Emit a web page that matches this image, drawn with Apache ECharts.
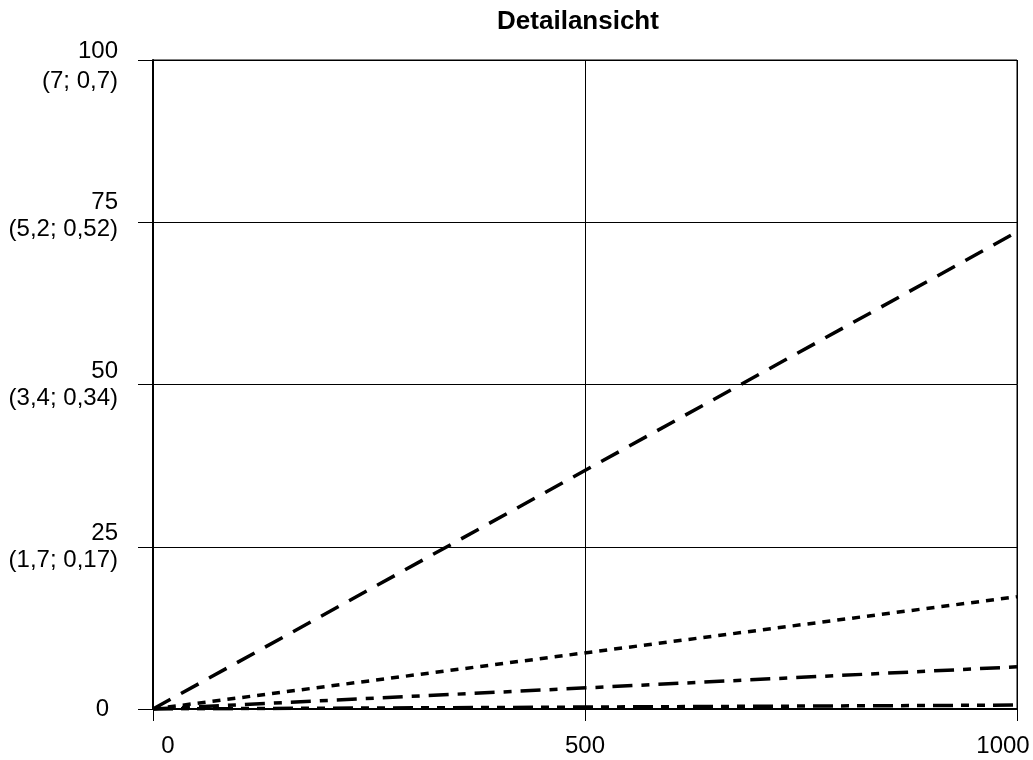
<!DOCTYPE html>
<html>
<head>
<meta charset="utf-8">
<script src="https://cdn.jsdelivr.net/npm/echarts@6/dist/echarts.min.js"></script>
<style>html,body{margin:0;padding:0;background:#fff}#c{width:1033px;height:760px}</style>
</head>
<body>
<div id="c"></div>
<script>
// ---- data ----
var titleText = 'Detailansicht';
var xValues = [0, 1000];
var seriesDashed = [0, 73.5];
var seriesDotted = [0, 17.3];
var seriesDashDot = [0, 6.5];
var seriesDashDotDot = [0, 0.6];
var yTickValues = [0, 25, 50, 75, 100];
var yTickMain = ['0', '25', '50', '75', '100'];
var yTickSub = ['', '(1,7; 0,17)', '(3,4; 0,34)', '(5,2; 0,52)', '(7; 0,7)'];
var xTickValues = [0, 500, 1000];
var xTickLabels = ['0', '500', '1000'];

function pts(vals) { return xValues.map(function (x, i) { return [x, vals[i]]; }); }

var font = 'Liberation Sans, Arial, sans-serif';
var fs = 24;
var chart = echarts.init(document.getElementById('c'));
var lineW = 3.5;
function mk(vals, dash) {
  return {
    type: 'line', data: pts(vals), symbol: 'none', silent: true,
    lineStyle: { color: '#000', width: lineW, type: dash, cap: 'butt' }
  };
}
function rs(lh, extra) {
  var o = { fontFamily: font, fontSize: fs, color: '#000', lineHeight: lh, align: 'right' };
  if (extra) for (var k in extra) o[k] = extra[k];
  return o;
}
chart.setOption({
  animation: false,
  backgroundColor: '#fff',
  title: {
    text: titleText, left: 573, top: 4, textAlign: 'center',
    textStyle: { fontFamily: font, fontSize: 26, fontWeight: 'bold', color: '#000' }
  },
  grid: { left: 153, right: 16, top: 60, bottom: 51, show: true, borderColor: '#000', borderWidth: 1, containLabel: false },
  xAxis: {
    type: 'value', min: 0, max: 1000, interval: 500,
    axisLine: { show: true, lineStyle: { color: '#000', width: 2 } },
    axisTick: { show: true, inside: false, length: 12, lineStyle: { color: '#000', width: 1 } },
    splitLine: { show: true, lineStyle: { color: '#000', width: 1 } },
    axisLabel: {
      margin: 25, color: '#000', fontFamily: font, fontSize: fs,
      formatter: function (v) {
        var i = xTickValues.indexOf(v);
        var t = xTickLabels[i];
        if (i === 0) return '{first|' + t + '}';
        if (i === xTickValues.length - 1) return '{last|' + t + '}';
        return t;
      },
      rich: {
        first: { fontFamily: font, fontSize: fs, color: '#000', padding: [0, 0, 0, 30] },
        last: { fontFamily: font, fontSize: fs, color: '#000', padding: [0, 28, 0, 0] }
      }
    }
  },
  yAxis: {
    type: 'value', min: 0, max: 100, interval: 25,
    axisLine: { show: true, lineStyle: { color: '#000', width: 2 } },
    axisTick: { show: true, inside: false, length: 15, lineStyle: { color: '#000', width: 1 } },
    splitLine: { show: true, lineStyle: { color: '#000', width: 1 } },
    axisLabel: {
      margin: 35, color: '#000', fontFamily: font, fontSize: fs, align: 'right', lineHeight: 27,
      formatter: function (v) {
        var i = yTickValues.indexOf(v);
        if (i < 0) return '';
        if (!yTickSub[i]) return '{z|' + yTickMain[i] + '}';
        if (i === yTickValues.length - 1) return '{t1|' + yTickMain[i] + '}\n{t2|' + yTickSub[i] + '}';
        if (i === yTickValues.length - 2) return '{u1|' + yTickMain[i] + '}\n{u2|' + yTickSub[i] + '}';
        return '{n|' + yTickMain[i] + '}\n{n|' + yTickSub[i] + '}';
      },
      rich: {
        n: rs(27),
        t1: rs(43),
        t2: rs(17),
        u1: rs(15),
        u2: rs(39),
        z: rs(27, { padding: [0, 9, 0, 0] })
      }
    }
  },
  series: [
    mk(seriesDashed, [20, 12]),
    mk(seriesDotted, [8, 7]),
    mk(seriesDashDot, [20, 9, 8, 9]),
    mk(seriesDashDotDot, [20, 8, 8, 8, 8, 8])
  ]
});
</script>
</body>
</html>
